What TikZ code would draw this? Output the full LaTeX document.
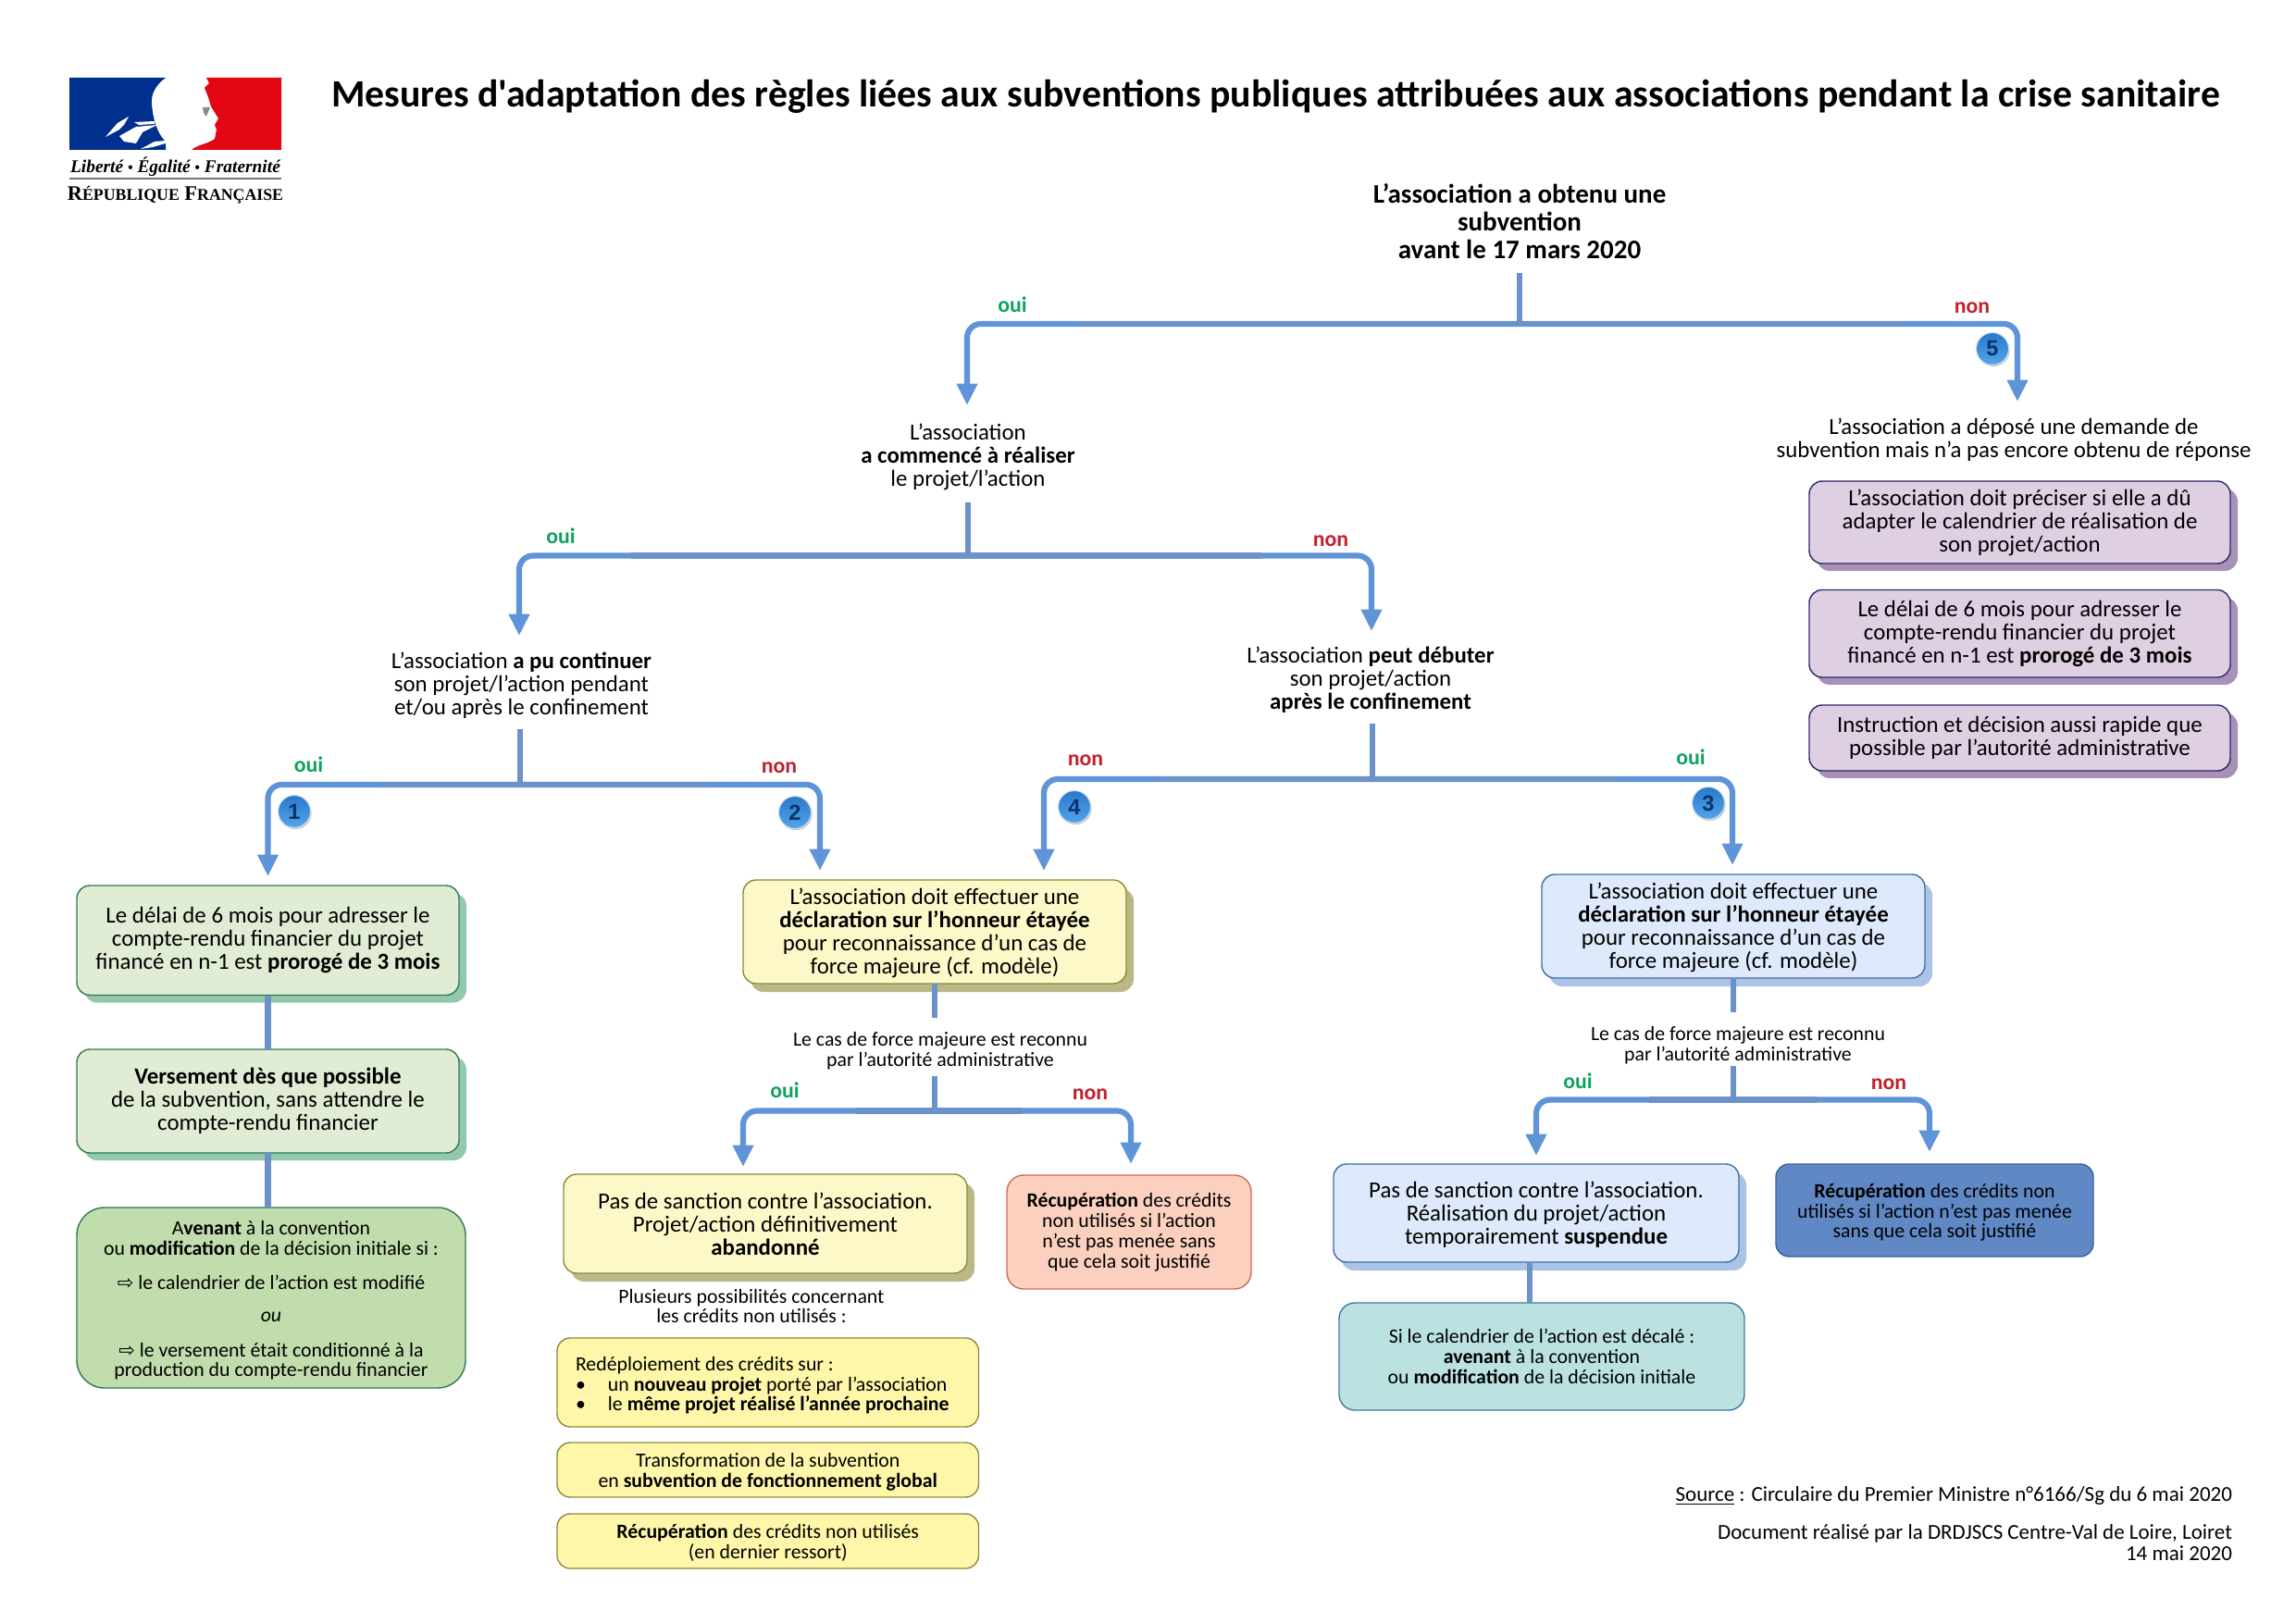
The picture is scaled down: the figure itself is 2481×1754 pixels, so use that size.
\documentclass[tikz,border=0pt]{standalone}
\usepackage{fontspec}
\setmainfont{Carlito}
\newfontfamily\titlefont{Carlito}
\newfontfamily\symfont{DejaVu Sans}
\newfontfamily\logofont{Liberation Serif}
\newfontfamily\numfont{Liberation Sans}
\usetikzlibrary{arrows.meta,shadows}
\definecolor{arrowblue}{HTML}{5F94D8}
\definecolor{trunkblue}{HTML}{6C93C9}
\definecolor{ouigreen}{HTML}{0FA35E}
\definecolor{nonred}{HTML}{C0202E}
\definecolor{greenf}{HTML}{E0ECD3}
\definecolor{greend}{HTML}{2F7A52}
\definecolor{greens}{HTML}{92C9AE}
\definecolor{deepf}{HTML}{C1DDAD}
\definecolor{palef}{HTML}{FDF8C8}
\definecolor{paled}{HTML}{8C8A3A}
\definecolor{pales}{HTML}{BBB888}
\definecolor{brightf}{HTML}{FEF6A8}
\definecolor{brightd}{HTML}{8F8B3A}
\definecolor{salmf}{HTML}{FBD0BF}
\definecolor{salmd}{HTML}{D06A60}
\definecolor{lbf}{HTML}{DEE9FB}
\definecolor{lbd}{HTML}{3F6EA8}
\definecolor{lbs}{HTML}{ABC3E6}
\definecolor{dbf}{HTML}{5F88C4}
\definecolor{dbd}{HTML}{3A6598}
\definecolor{tealf}{HTML}{BBE1E1}
\definecolor{teald}{HTML}{3F7CA0}
\definecolor{purf}{HTML}{DFCFE3}
\definecolor{purd}{HTML}{2E2A66}
\definecolor{purs}{HTML}{A791B8}
\definecolor{badget}{HTML}{2A78C8}
\definecolor{badgeb}{HTML}{54A5EB}
\definecolor{badger}{HTML}{CDE1F5}
\definecolor{badgen}{HTML}{08346E}
\definecolor{flagblue}{HTML}{002F8E}
\definecolor{flagred}{HTML}{E30613}
\tikzset{
  x=0.5pt,y=-0.5pt,
  arrowline/.style={draw=arrowblue,line width=3.1pt,rounded corners=7.5pt,-{Triangle[width=10.7pt,length=11.7pt]}},
  trunk/.style={draw=trunkblue,line width=3.1pt},
  bigtext/.style={font=\fontsize{12.45}{12.5}\selectfont,align=center},
  smalltext/.style={font=\fontsize{10.9}{10.9}\selectfont,align=center},
  plain/.style={inner sep=0pt,outer sep=0pt},
  boxbase/.style={plain,rounded corners=7pt,line width=0.7pt},
  greenbox/.style={boxbase,bigtext,fill=greenf,draw=greend,copy shadow={shadow xshift=4pt,shadow yshift=-4pt,fill=greens,draw=none}},
  greendeep/.style={boxbase,smalltext,rounded corners=15pt,fill=deepf,draw=greend},
  paleyellow/.style={boxbase,bigtext,fill=palef,draw=paled,copy shadow={shadow xshift=4pt,shadow yshift=-4.5pt,fill=pales,draw=none}},
  brightyellow/.style={boxbase,smalltext,fill=brightf,draw=brightd},
  salmon/.style={boxbase,smalltext,rounded corners=9pt,fill=salmf,draw=salmd},
  lightblue/.style={boxbase,bigtext,fill=lbf,draw=lbd,copy shadow={shadow xshift=4pt,shadow yshift=-4.5pt,fill=lbs,draw=none}},
  darkblue/.style={boxbase,smalltext,fill=dbf,draw=dbd},
  tealbox/.style={boxbase,smalltext,rounded corners=8.5pt,fill=tealf,draw=teald},
  purplebox/.style={boxbase,bigtext,fill=purf,draw=purd,copy shadow={shadow xshift=4pt,shadow yshift=-4pt,fill=purs,draw=none}},
  ouilabel/.style={plain,text=ouigreen,font=\fontsize{11.9}{12}\selectfont\bfseries},
  nonlabel/.style={plain,text=nonred,font=\fontsize{11.9}{12}\selectfont\bfseries},
  badge/.style={circle,plain,minimum size=17.5pt,top color=badget,bottom color=badgeb,draw=badger,line width=0.5pt,text=badgen,font=\numfont\fontsize{11.8}{12}\selectfont\bfseries,copy shadow={shadow xshift=0.6pt,shadow yshift=-0.8pt,fill=black!22,draw=none}},
}
% #1 name, #2 style, #3 x1, #4 y1, #5 x2, #6 y2, #7 text
\newcommand{\bx}[7]{%
  \pgfmathsetmacro\bw{(#5-#3)/2}\pgfmathsetmacro\bh{(#6-#4)/2}%
  \node[#2,minimum width=\bw pt,minimum height=\bh pt] (#1) at ({(#3+#5)/2},{(#4+#6)/2}) {#7};}
% #1 name, #2 style, #3 x, #4 y centre, #5 half height, #6 text
\newcommand{\tx}[6]{\node[plain,#2,minimum height=#5 pt] (#1) at (#3,#4) {#6};}
\newcommand{\tp}[1]{\rule{0pt}{#1pt}}
\begin{document}
\begin{tikzpicture}
\useasboundingbox (0,0) rectangle (2481,1754);
\fill[white] (0,0) rectangle (2481,1754);

% logo
\fill[flagblue] (75,84) -- (179,84) .. controls (168,92) and (163,102) .. (164,112) .. controls (165,128) and (170,145) .. (179,153) -- (179,162) -- (75,162) -- cycle;
\fill[flagred] (223,84) -- (304,84) -- (304,162) -- (207,162) .. controls (212,157) and (226,155) .. (232,150) -- (234,140) -- (232,135) -- (236,128) -- (228,115) -- (225,105) -- (221,95) -- (226,90) -- cycle;
\fill[white] (114,148) -- (127,133) -- (139,126) -- (134,135) -- (129,140) -- cycle;
\fill[white] (129,147) -- (147,137) -- (170,135) -- (154,143) -- (147,155) -- (134,153) -- cycle;
\fill[white] (145,132) -- (167,131) -- (167,134) -- (150,135) -- cycle;
\fill[white] (152,161) -- (167,153) -- (179,152) -- (179,155) -- (165,159) -- cycle;
\fill[black!45] (219,116) -- (227,116) -- (223,126) -- (220,122) -- cycle;
\node[plain] (logotxt) at (189.5,180) {\logofont\itshape\bfseries\fontsize{9.7}{10}\selectfont Liberté {\fontsize{8}{8}\selectfont•} Égalité {\fontsize{8}{8}\selectfont•} Fraternité};
\draw[black!55,line width=1.3pt] (75,193) -- (304,193);
\node[plain] (logorf) at (189.5,210.5) {\logofont\bfseries\fontsize{11.2}{12}\selectfont R{\fontsize{8.9}{10}\selectfont ÉPUBLIQUE} F{\fontsize{8.9}{10}\selectfont RANÇAISE}};

% title
\node[plain] (title) at (1378.5,104) {\titlefont\bfseries\fontsize{20.87}{24}\selectfont Mesures d'adaptation des règles liées aux subventions publiques attribuées aux associations pendant la crise sanitaire};

% question texts
\tx{q1}{font=\fontsize{14.5}{15}\selectfont\bfseries,align=center}{1642}{239}{56}{L’association a obtenu une\\subvention\\avant le 17 mars 2020}
\tx{q2}{bigtext}{1046}{494}{49}{L’association\\\textbf{a commencé à réaliser}\\le projet/l’action}
\tx{q3}{bigtext}{563.5}{740.5}{47.5}{L’association \textbf{a pu continuer}\\son projet/l’action pendant\\et/ou après le confinement}
\tx{q4}{bigtext}{1481}{735}{47}{L’association \textbf{peut débuter}\\son projet/action\\\textbf{après le confinement}}
\tx{q5}{bigtext}{2176}{475.5}{39}{L’association a déposé une demande de\\subvention mais n’a pas encore obtenu de réponse}

% boxes
\bx{p1}{purplebox}{1955}{520}{2410}{609}{L’association doit préciser si elle a dû\\adapter le calendrier de réalisation de\\son projet/action}
\bx{p2}{purplebox}{1955}{637.5}{2410}{732}{Le délai de 6 mois pour adresser le\\compte-rendu financier du projet\\financé en n-1 est \textbf{prorogé de 3 mois}}
\bx{p3}{purplebox}{1955}{762}{2410}{833}{Instruction et décision aussi rapide que\\possible par l’autorité administrative}

\bx{g1}{greenbox}{83}{957}{496}{1075.5}{Le délai de 6 mois pour adresser le\\compte-rendu financier du projet\\financé en n-1 est \textbf{prorogé de 3 mois}}
\bx{g2}{greenbox}{83}{1134}{496}{1246}{\textbf{Versement dès que possible}\\de la subvention, sans attendre le\\compte-rendu financier}
\bx{g3}{greendeep}{83}{1305}{503}{1500}{\tp{10.5}A\textbf{venant} à la convention\\ou \textbf{modification} de la décision initiale si :\\[7.75pt]{\symfont\fontsize{10.5}{10}\selectfont ⇨} le calendrier de l’action est modifié\\[6.7pt]\textit{ou}\\[7.75pt]{\symfont\fontsize{10.5}{10}\selectfont ⇨} le versement était conditionné à la\\production du compte-rendu financier}

\bx{y1}{paleyellow}{803}{951}{1217}{1063}{\tp{10.6}L’association doit effectuer une\\\textbf{déclaration sur l’honneur étayée}\\pour reconnaissance d’un cas de\\force majeure (cf. modèle)}
\tx{c1}{smalltext}{1016}{1136}{31}{Le cas de force majeure est reconnu\\par l’autorité administrative}
\bx{y2}{paleyellow}{609}{1269}{1045}{1376}{Pas de sanction contre l’association.\\Projet/action définitivement\\\textbf{abandonné}}
\bx{s1}{salmon}{1088}{1270}{1352}{1393}{\textbf{Récupération} des crédits\\non utilisés si l’action\\n’est pas menée sans\\que cela soit justifié}
\tx{pl}{smalltext}{812}{1411.5}{15}{Plusieurs possibilités concernant\\les crédits non utilisés :}
\bx{ya}{brightyellow,align=flush left,text width=207.75pt,inner xsep=10pt}{602}{1446}{1057.5}{1542}{\tp{11}Redéploiement des crédits sur :\\\makebox[17.5pt][l]{•}un \textbf{nouveau projet} porté par l’association\\\makebox[17.5pt][l]{•}le \textbf{même projet réalisé l’année prochaine}}
\bx{yb}{brightyellow}{602}{1559}{1057.5}{1618}{\tp{9.5}Transformation de la subvention\\en \textbf{subvention de fonctionnement global}}
\bx{yc}{brightyellow}{602}{1636}{1057.5}{1695}{\tp{9.5}\textbf{Récupération} des crédits non utilisés\\(en dernier ressort)}

\bx{b1}{lightblue}{1666}{945}{2080}{1057}{\tp{10.6}L’association doit effectuer une\\\textbf{déclaration sur l’honneur étayée}\\pour reconnaissance d’un cas de\\force majeure (cf. modèle)}
\tx{c2}{smalltext}{1878}{1129.5}{29}{Le cas de force majeure est reconnu\\par l’autorité administrative}
\bx{b2}{lightblue}{1441}{1258}{1879}{1364}{\tp{10.1}Pas de sanction contre l’association.\\Réalisation du projet/action\\temporairement \textbf{suspendue}}
\bx{d1}{darkblue}{1919}{1258}{2262}{1358}{\tp{10}\textbf{Récupération} des crédits non\\utilisés si l’action n’est pas menée\\sans que cela soit justifié}
\bx{t1}{tealbox}{1447}{1408}{1885}{1524}{Si le calendrier de l’action est décalé :\\\textbf{avenant} à la convention\\ou \textbf{modification} de la décision initiale}

% junctions
\coordinate (j1) at (1642,350);
\coordinate (j2) at (1046,600.5);
\coordinate (j3) at (562,848);
\coordinate (j4) at (1483,842);
\coordinate (j5) at (1010,1200.5);
\coordinate (j6) at (1873,1188.5);

% arrows
\draw[arrowline,shorten >=3.5pt] (j1) -| ([xshift=-0.5pt]q2.north);
\draw[arrowline,shorten >=1.25pt] (j1) -| ([xshift=2pt]q5.north);
\draw[arrowline,shorten >=3pt] (j2) -| ([xshift=-1.25pt]q3.north);
\draw[arrowline,shorten >=3pt] (j2) -| ([xshift=0.5pt]q4.north);
\draw[arrowline,shorten >=5pt] (j3) -| (g1.north);
\draw[arrowline,shorten >=5pt] (j3) -| ([xshift=-62pt]y1.north);
\draw[arrowline,shorten >=5pt] (j4) -| ([xshift=59pt]y1.north);
\draw[arrowline,shorten >=5pt] (j4) -| ([xshift=-0.5pt]b1.north);
\draw[arrowline,shorten >=4pt] (j5) -| ([xshift=-12pt]y2.north);
\draw[arrowline,shorten >=6pt] (j5) -| ([xshift=1pt]s1.north);
\draw[arrowline,shorten >=4.5pt] (j6) -| (b2.north);
\draw[arrowline,shorten >=6.5pt] (j6) -| ([xshift=-2.75pt]d1.north);

% trunks
\draw[trunk] (q1.south) -- (j1);
\draw[trunk] ([xshift=-237.5pt]j1) -- ([xshift=207.5pt]j1);
\draw[trunk] (q2.south) -- (j2);
\draw[trunk] ([xshift=-182pt]j2) -- ([xshift=158.5pt]j2);
\draw[trunk] ([xshift=-0.75pt]q3.south) -- (j3);
\draw[trunk] ([xshift=-75pt]j3) -- ([xshift=101.5pt]j3);
\draw[trunk] ([xshift=1pt]q4.south) -- (j4);
\draw[trunk] ([xshift=-116.5pt]j4) -- ([xshift=133.5pt]j4);
\draw[trunk] (y1.south) -- ([xshift=-3pt,yshift=2.5pt]c1.north);
\draw[trunk] ([xshift=-3pt,yshift=2pt]c1.south) -- (j5);
\draw[trunk] ([xshift=-42.5pt]j5) -- ([xshift=47.5pt]j5);
\draw[trunk] (b1.south) -- ([xshift=-2.5pt,yshift=3.25pt]c2.north);
\draw[trunk] ([xshift=-2.5pt,yshift=3.25pt]c2.south) -- (j6);
\draw[trunk] ([xshift=-45.5pt]j6) -- ([xshift=45pt]j6);
\draw[trunk] (g1.south) -- (g2.north);
\draw[trunk] (g2.south) -- ([xshift=-1.75pt]g3.north);
\draw[trunk] ([xshift=-3.5pt]b2.south) -- ([xshift=-6.5pt]t1.north);

% oui / non
\node[ouilabel] (l1) at (1094,329) {oui};
\node[nonlabel] (l2) at (2131,333) {non};
\node[ouilabel] (l3) at (606,579) {oui};
\node[nonlabel] (l4) at (1438,585) {non};
\node[ouilabel] (l5) at (333.5,826) {oui};
\node[nonlabel] (l6) at (842,830) {non};
\node[nonlabel] (l7) at (1173,822) {non};
\node[ouilabel] (l8) at (1827,818) {oui};
\node[ouilabel] (l9) at (848,1178) {oui};
\node[nonlabel] (l10) at (1178,1183) {non};
\node[ouilabel] (l11) at (1705,1168) {oui};
\node[nonlabel] (l12) at (2041,1172) {non};

% badges
\node[badge] (n1) at (318,877) {1};
\node[badge] (n2) at (859,878) {2};
\node[badge] (n3) at (1846,868) {3};
\node[badge] (n4) at (1161,872) {4};
\node[badge] (n5) at (2153,377) {5};

% source
\node[plain,anchor=east,font=\fontsize{11.5}{11.5}\selectfont] (src) at (2412,1617) {\underline{Source} : Circulaire du Premier Ministre n°6166/Sg du 6 mai 2020};
\node[plain,anchor=east,align=right,font=\fontsize{11.5}{11.5}\selectfont] (doc) at (2412,1667) {Document réalisé par la DRDJSCS Centre-Val de Loire, Loiret\\14 mai 2020};
\end{tikzpicture}
\end{document}
